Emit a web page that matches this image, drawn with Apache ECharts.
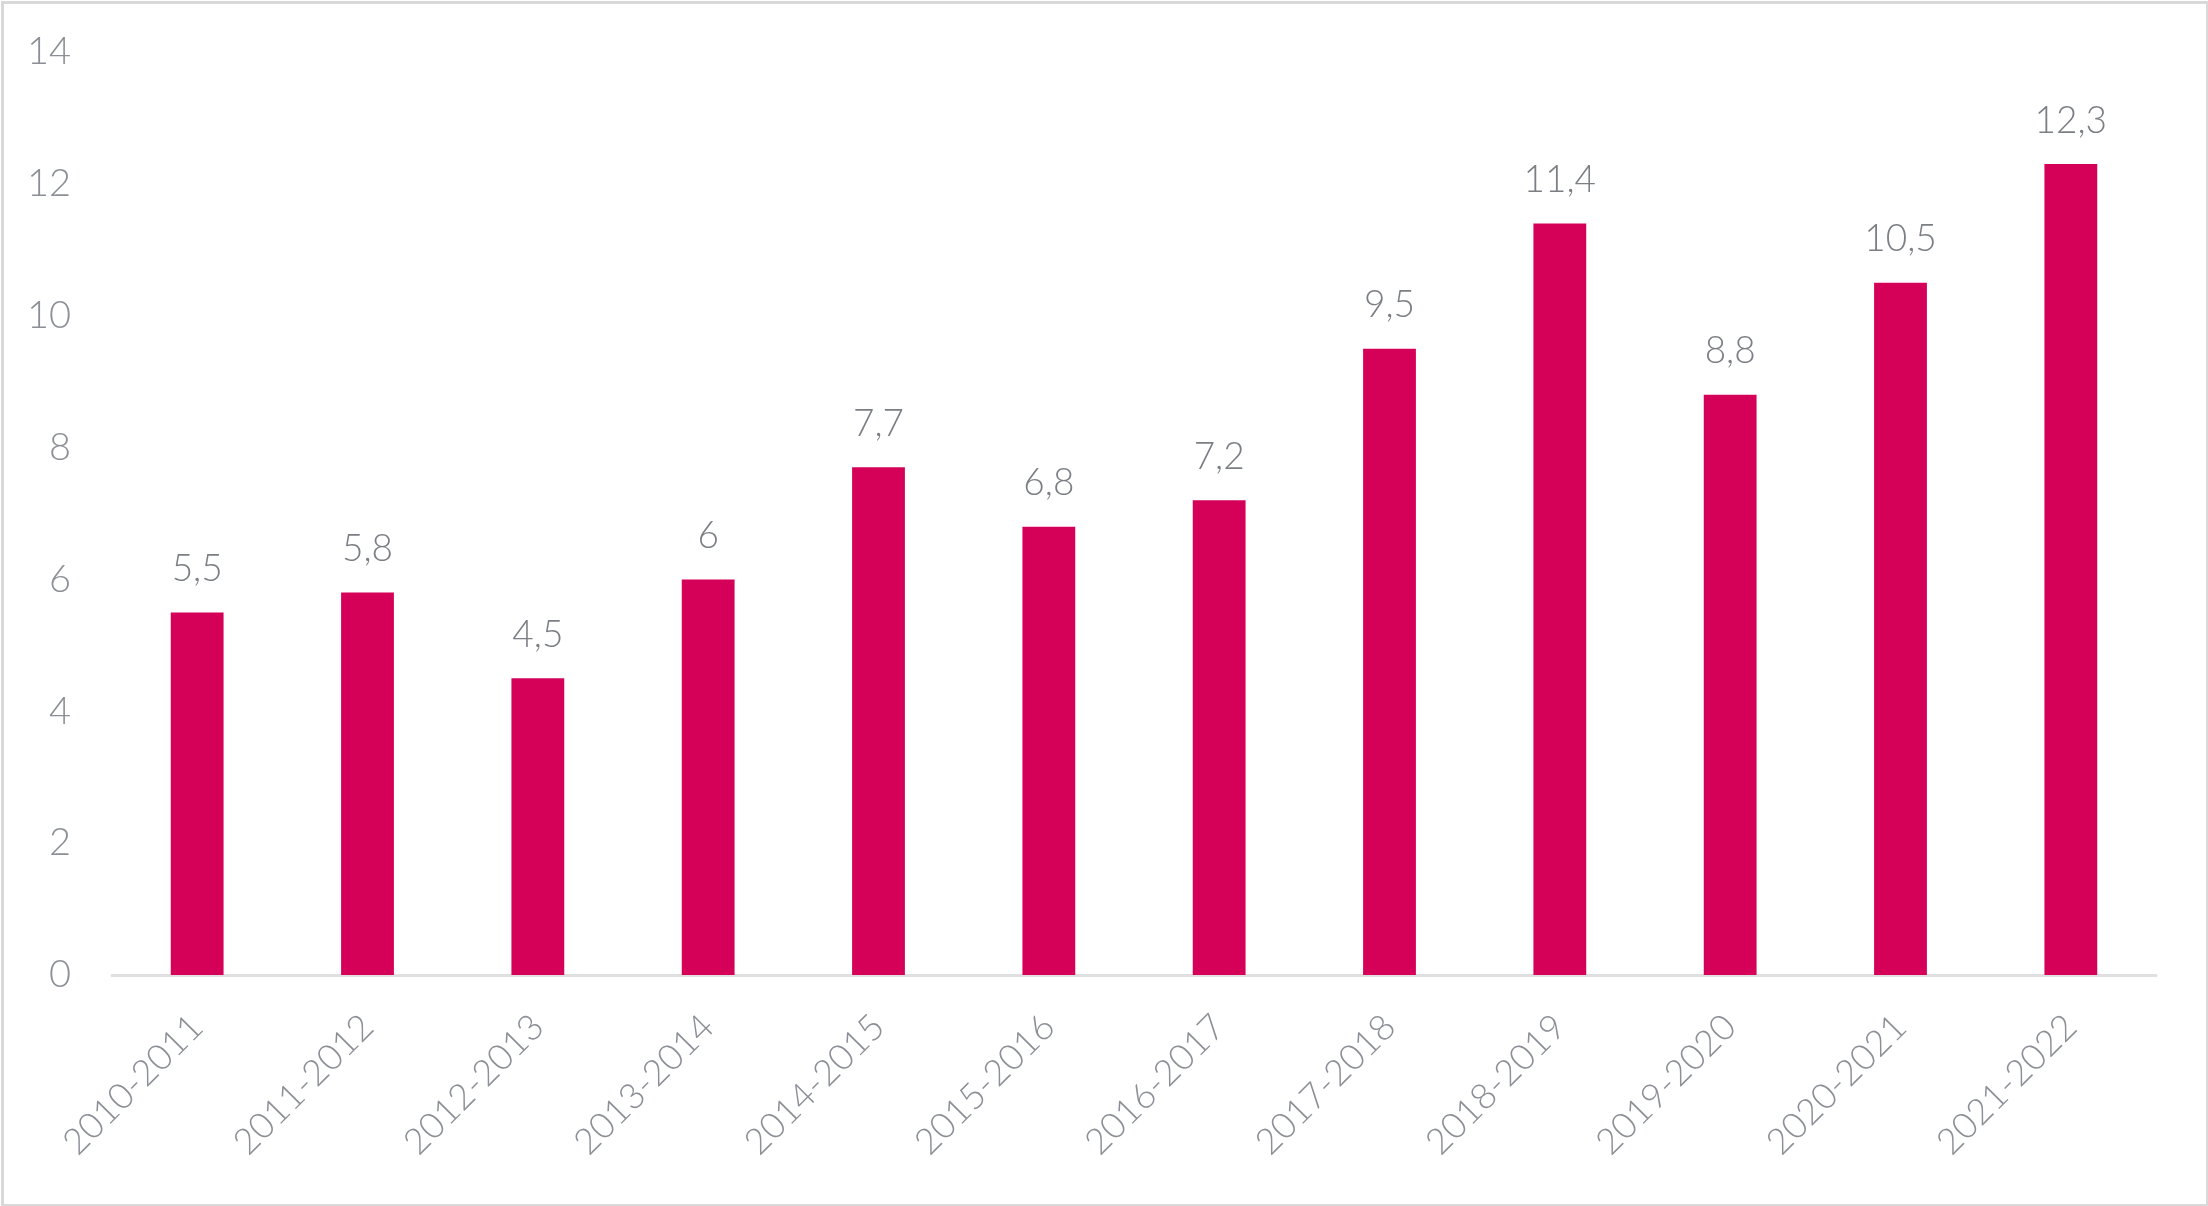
<!DOCTYPE html>
<html>
<head>
<meta charset="utf-8">
<script src="https://cdn.jsdelivr.net/npm/echarts@6/dist/echarts.min.js"></script>
<style>
html,body{margin:0;padding:0;background:#fff;}
#c{width:2208px;height:1206px;}
</style>
</head>
<body>
<div id="c"></div>
<script>
const categories = ["2010-2011","2011-2012","2012-2013","2013-2014","2014-2015","2015-2016","2016-2017","2017-2018","2018-2019","2019-2020","2020-2021","2021-2022"];
const values = [5.5,5.8,4.5,6,7.7,6.8,7.2,9.5,11.4,8.8,10.5,12.3];
const yTicks = {min:0, max:14, interval:2};

const FONT = 'Lato, "Open Sans", sans-serif';
const chart = echarts.init(document.getElementById('c'), null, {renderer:'canvas'});
chart.setOption({
  backgroundColor:'#fff',
  animation:false,
  graphic:[{
    type:'rect', left:0, top:0, silent:true,
    shape:{x:1.5,y:1.5,width:2205,height:1203},
    style:{fill:'none', stroke:'#d9d9d9', lineWidth:3}
  }],
  grid:{left:112, right:52, top:52, bottom:231},
  xAxis:{
    type:'category', data:categories,
    axisLine:{lineStyle:{color:'#e0e0e0', width:3}},
    axisTick:{show:false},
    axisLabel:{rotate:45, color:'#8c9096', fontFamily:FONT, fontWeight:300, fontSize:36, margin:46, padding:[26,0,0,0], interval:0}
  },
  yAxis:{
    type:'value', min:yTicks.min, max:yTicks.max, interval:yTicks.interval,
    axisLine:{show:false}, axisTick:{show:false},
    splitLine:{show:false},
    axisLabel:{color:'#8c9096', fontFamily:FONT, fontWeight:300, fontSize:38, margin:41}
  },
  series:[{
    type:'bar', data:values, barWidth:'31%',
    itemStyle:{color:'#d50057'},
    label:{show:true, position:'top', distance:25, color:'#7b7f84', fontFamily:FONT, fontWeight:300, fontSize:37,
      formatter:p=>String(p.value).replace('.',',')}
  }]
});
</script>
</body>
</html>
